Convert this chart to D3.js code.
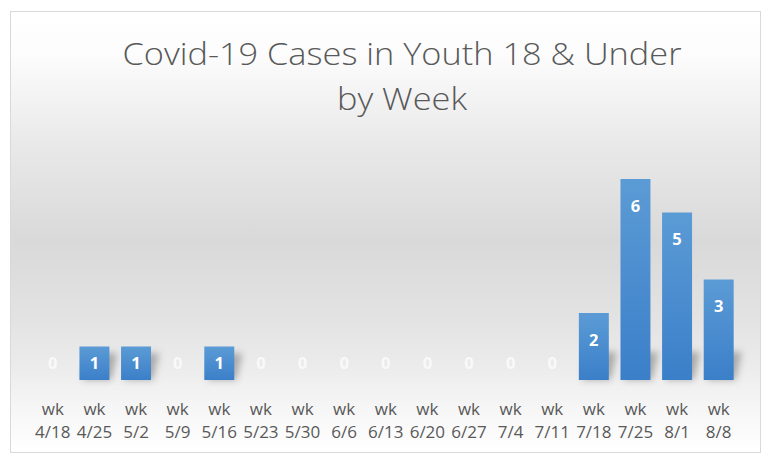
<!DOCTYPE html>
<html>
<head>
<meta charset="utf-8">
<script src="https://cdn.jsdelivr.net/npm/d3@7"></script>
<style>
  body { margin: 0; background: #fff; }
  svg { display: block; }
</style>
</head>
<body>
<svg id="chart"></svg>
<script>
const weeks = ["4/18", "4/25", "5/2", "5/9", "5/16", "5/23", "5/30", "6/6", "6/13",
  "6/20", "6/27", "7/4", "7/11", "7/18", "7/25", "8/1", "8/8"];
const cases = [0, 1, 1, 0, 1, 0, 0, 0, 0, 0, 0, 0, 0, 2, 6, 5, 3];
const titleLines = ["Covid-19 Cases in Youth 18 & Under", "by Week"];

const width = 768, height = 465;
const frame = { x: 10.5, y: 11.5, w: 750, h: 441 };
const plot = { left: 32, right: 739.5, top: 179, bottom: 380 };

const data = weeks.map((w, i) => ({ week: w, value: cases[i] }));

const svg = d3.select("#chart")
  .attr("width", width)
  .attr("height", height);

const defs = svg.append("defs");

const bg = defs.append("linearGradient")
  .attr("id", "bg")
  .attr("x1", 0).attr("y1", 0).attr("x2", 0).attr("y2", 1);
[[0, "#ffffff"], [0.1, "#fcfcfc"], [0.3, "#e9e9e9"], [0.52, "#d9d9d9"],
  [0.7, "#e3e3e3"], [0.8, "#ebebeb"], [0.9, "#f6f6f6"], [1, "#ffffff"]]
  .forEach(([o, c]) => bg.append("stop").attr("offset", o).attr("stop-color", c));

const barGrad = defs.append("linearGradient")
  .attr("id", "bar")
  .attr("x1", 0).attr("y1", 0).attr("x2", 0).attr("y2", 1);
barGrad.append("stop").attr("offset", 0).attr("stop-color", "#5b9bd5");
barGrad.append("stop").attr("offset", 1).attr("stop-color", "#3b7fc9");

defs.append("filter")
  .attr("id", "blur")
  .attr("x", "-50%").attr("y", "-50%").attr("width", "200%").attr("height", "200%")
  .append("feGaussianBlur").attr("stdDeviation", 3.5);

// chart area
svg.append("rect")
  .attr("x", frame.x).attr("y", frame.y)
  .attr("width", frame.w).attr("height", frame.h)
  .attr("fill", "url(#bg)")
  .attr("stroke", "#d9d9d9")
  .attr("stroke-width", 1);

// title: narrow face in the picture, so squeeze glyphs to the same width
const title = svg.append("g")
  .attr("font-family", "'Open Sans', sans-serif")
  .attr("font-weight", 300)
  .attr("font-size", 31)
  .attr("fill", "#595959")
  .attr("text-anchor", "middle");

const titleText = title.selectAll("text")
  .data(titleLines)
  .join("text")
    .attr("x", 402)
    .attr("y", (d, i) => 65 + i * 45)
    .text(d => d);

const natural = titleText.nodes().map(n => n.getComputedTextLength());
const squeeze = 559 / natural[0];
titleText
  .attr("textLength", (d, i) => natural[i] * squeeze)
  .attr("lengthAdjust", "spacingAndGlyphs");

const xScale = d3.scaleBand()
  .domain(weeks)
  .range([plot.left, plot.right])
  .paddingInner(0.28)
  .paddingOuter(0.14);

const yScale = d3.scaleLinear()
  .domain([0, 6])
  .range([plot.bottom, plot.top]);

// soft perspective shadow behind the bars
svg.append("g")
  .attr("class", "shadows")
  .attr("filter", "url(#blur)")
  .selectAll("path")
  .data(data.filter(d => d.value > 0))
  .join("path")
    .attr("fill", "#000")
    .attr("opacity", 0.28)
    .attr("d", d => {
      const x0 = xScale(d.week), x1 = x0 + xScale.bandwidth();
      const b = yScale(0);
      const h = Math.min(28, (b - yScale(d.value)) * 0.8);
      return `M${x0 + 3},${b} L${x1 + 2},${b} L${x1 + 8},${b - h} L${x0 + 10},${b - h} Z`;
    });

svg.append("g")
  .attr("class", "bars")
  .selectAll("rect")
  .data(data)
  .join("rect")
    .attr("x", d => xScale(d.week))
    .attr("y", d => yScale(d.value))
    .attr("width", xScale.bandwidth())
    .attr("height", d => yScale(0) - yScale(d.value))
    .attr("fill", "url(#bar)");

svg.append("g")
  .attr("class", "labels")
  .attr("font-family", "'Open Sans', sans-serif")
  .attr("font-weight", 700)
  .attr("font-size", 16.5)
  .attr("text-anchor", "middle")
  .selectAll("text")
  .data(data)
  .join("text")
    .attr("x", d => xScale(d.week) + xScale.bandwidth() / 2)
    .attr("y", d => Math.min(yScale(d.value) + 27, yScale(0) - 17))
    .attr("dy", "0.35em")
    .attr("fill", d => d.value > 0 ? "#ffffff" : "#f9f9f9")
    .text(d => d.value);

// category axis, two lines per tick
const xAxis = svg.append("g")
  .attr("transform", `translate(0,${plot.bottom})`)
  .call(d3.axisBottom(xScale).tickSize(0).tickFormat(""));
xAxis.select(".domain").remove();

xAxis.selectAll(".tick text").remove();
xAxis.selectAll(".tick").each(function(d) {
  const t = d3.select(this).append("text")
    .attr("fill", "#595959")
    .attr("font-family", "'Open Sans', sans-serif")
    .attr("font-size", 17)
    .attr("text-anchor", "middle");
  t.append("tspan").attr("x", 0).attr("y", 35).text("wk");
  t.append("tspan").attr("x", 0).attr("y", 58).text(d);
});
</script>
</body>
</html>
